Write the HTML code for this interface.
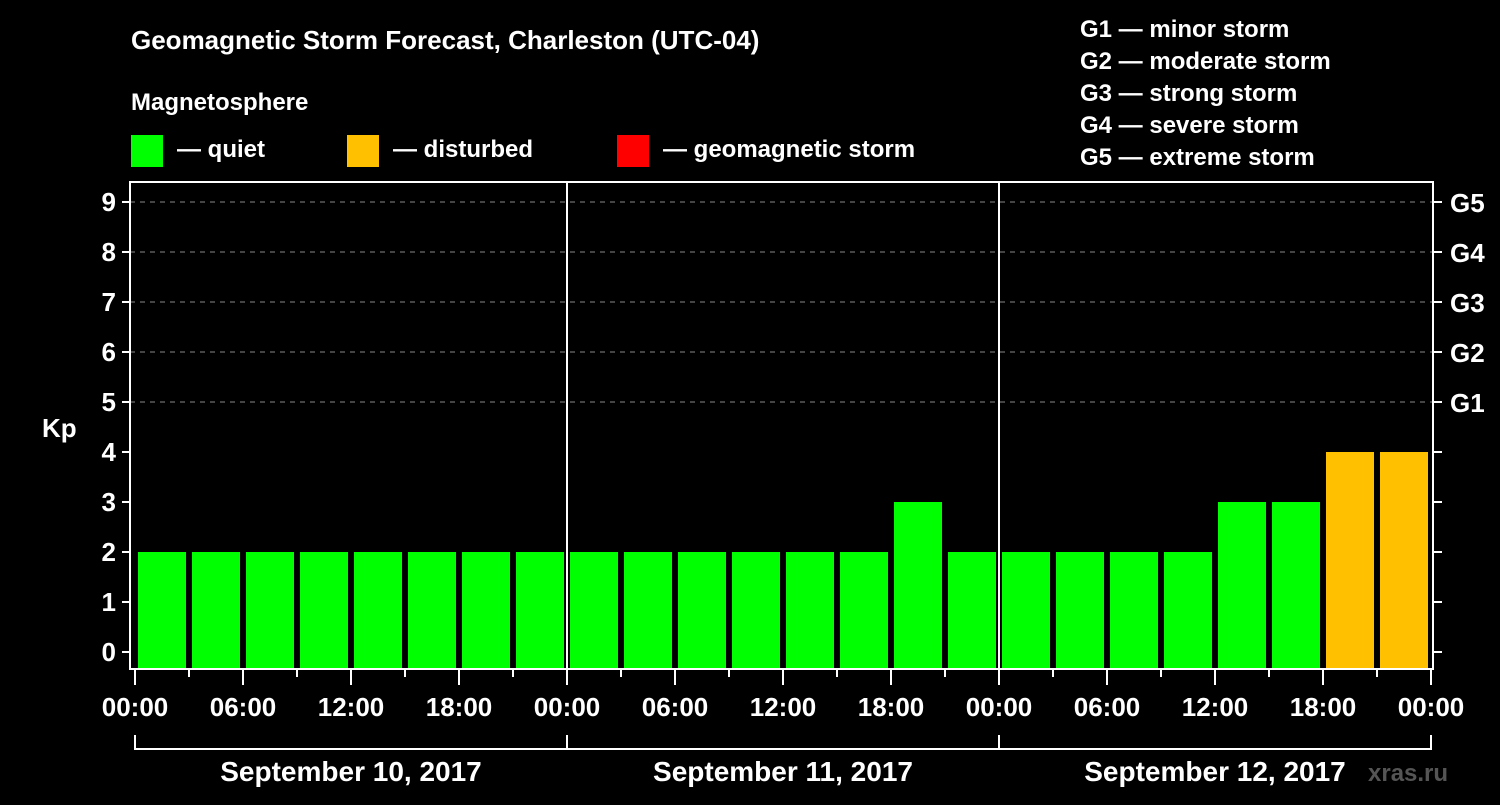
<!DOCTYPE html>
<html><head><meta charset="utf-8"><style>
body{margin:0;background:#000;width:1500px;height:800px;overflow:hidden}
svg text{font-family:"Liberation Sans",Arial,sans-serif;font-weight:bold;fill:#fff}
</style></head><body>
<svg id="chart" width="1500" height="800" xmlns="http://www.w3.org/2000/svg">
<rect width="1500" height="800" fill="#000"/>
<text x="131" y="49" font-size="26">Geomagnetic Storm Forecast, Charleston (UTC-04)</text>
<text x="131" y="110" font-size="24">Magnetosphere</text>
<g>
<rect x="131" y="135" width="32" height="32" fill="#00ff00"/>
<text x="177" y="157" font-size="24">— quiet</text>
<rect x="347" y="135" width="32" height="32" fill="#ffc000"/>
<text x="393" y="157" font-size="24">— disturbed</text>
<rect x="617" y="135" width="32" height="32" fill="#ff0000"/>
<text x="663" y="157" font-size="24">— geomagnetic storm</text>
</g>
<g font-size="24">
<text x="1080" y="37">G1 — minor storm</text>
<text x="1080" y="69">G2 — moderate storm</text>
<text x="1080" y="101">G3 — strong storm</text>
<text x="1080" y="133">G4 — severe storm</text>
<text x="1080" y="165">G5 — extreme storm</text>
</g>
<text x="42" y="437" font-size="26">Kp</text>
<text x="1368" y="781" font-size="24" fill="#555" style="fill:#555">xras.ru</text>
<g id="plot"></g>
</svg>
<script>
const kpValues=[2,2,2,2,2,2,2,2,2,2,2,2,2,2,2,3,2,2,2,2,2,3,3,4,4];
const yTicks=[0,1,2,3,4,5,6,7,8,9];
const gLabels=["G1","G2","G3","G4","G5"];
const gLevels=[5,6,7,8,9];
const hourLabels=["00:00","06:00","12:00","18:00"];
const dayLabels=["September 10, 2017","September 11, 2017","September 12, 2017"];
const NS="http://www.w3.org/2000/svg";
const X0=135,PX_H=18,LEFT=130,RIGHT=1433,TOP=182,BOT=669;
const xH=h=>X0+h*PX_H;
const yK=v=>652-50*v;
const plot=document.getElementById('plot');
function mk(t,a,p){const e=document.createElementNS(NS,t);for(const k in a)e.setAttribute(k,a[k]);(p||plot).appendChild(e);return e;}
// grid
gLevels.forEach(v=>{
const l=mk('line',{x1:LEFT,x2:RIGHT,y1:yK(v),y2:yK(v),stroke:'#888','stroke-dasharray':'5,5','stroke-width':1});


});
// bars
kpValues.forEach((v,k)=>{
let x1=xH(-3+3*k)+3,x2=x1+48;
x1=Math.max(x1,136);x2=Math.min(x2,1428);
const c=v>=5?'#ff0000':(v>=4?'#ffc000':'#00ff00');
const r=mk('rect',{x:x1,y:yK(v),width:x2-x1,height:BOT-yK(v),fill:c});


});
// day separators
[1,2].forEach(d=>{
const l=mk('line',{x1:xH(24*d),x2:xH(24*d),y1:TOP,y2:BOT,stroke:'#fff','stroke-width':2});


});
// frame
const f=mk('rect',{x:LEFT,y:TOP,width:RIGHT-LEFT,height:BOT-TOP,fill:'none',stroke:'#fff','stroke-width':2});


// y ticks
yTicks.forEach(v=>{
mk('line',{x1:LEFT-8,x2:LEFT,y1:yK(v),y2:yK(v),stroke:'#fff','stroke-width':2});
mk('line',{x1:RIGHT,x2:RIGHT+9,y1:yK(v),y2:yK(v),stroke:'#fff','stroke-width':2});
const t=mk('text',{x:LEFT-14,y:yK(v)+9,'text-anchor':'end','font-size':26});
t.textContent=v;


});
gLabels.forEach((g,i)=>{
const t=mk('text',{x:1450,y:yK(gLevels[i])+10,'font-size':26});
t.textContent=g;


});
// x ticks
for(let h=0;h<=72;h+=3){
const long=h%6===0;
mk('line',{x1:xH(h),x2:xH(h),y1:BOT,y2:BOT+(long?16:8),stroke:'#fff','stroke-width':2});
}
for(let d=0;d<=3;d++){
for(let i=0;i<hourLabels.length;i++){
if(d===3&&i>0)break;
const h=24*d+6*i;
const t=mk('text',{x:xH(h),y:716,'text-anchor':'middle','font-size':26});
t.textContent=hourLabels[i];


}
}
// day bracket
mk('path',{d:`M${xH(0)},735 V749 H${xH(72)} V735`,fill:'none',stroke:'#fff','stroke-width':2});
[1,2].forEach(d=>mk('line',{x1:xH(24*d),x2:xH(24*d),y1:735,y2:749,stroke:'#fff','stroke-width':2}));
dayLabels.forEach((s,d)=>{
const t=mk('text',{x:xH(24*d+12),y:781,'text-anchor':'middle','font-size':28});
t.textContent=s;


});
</script>
</body></html>
